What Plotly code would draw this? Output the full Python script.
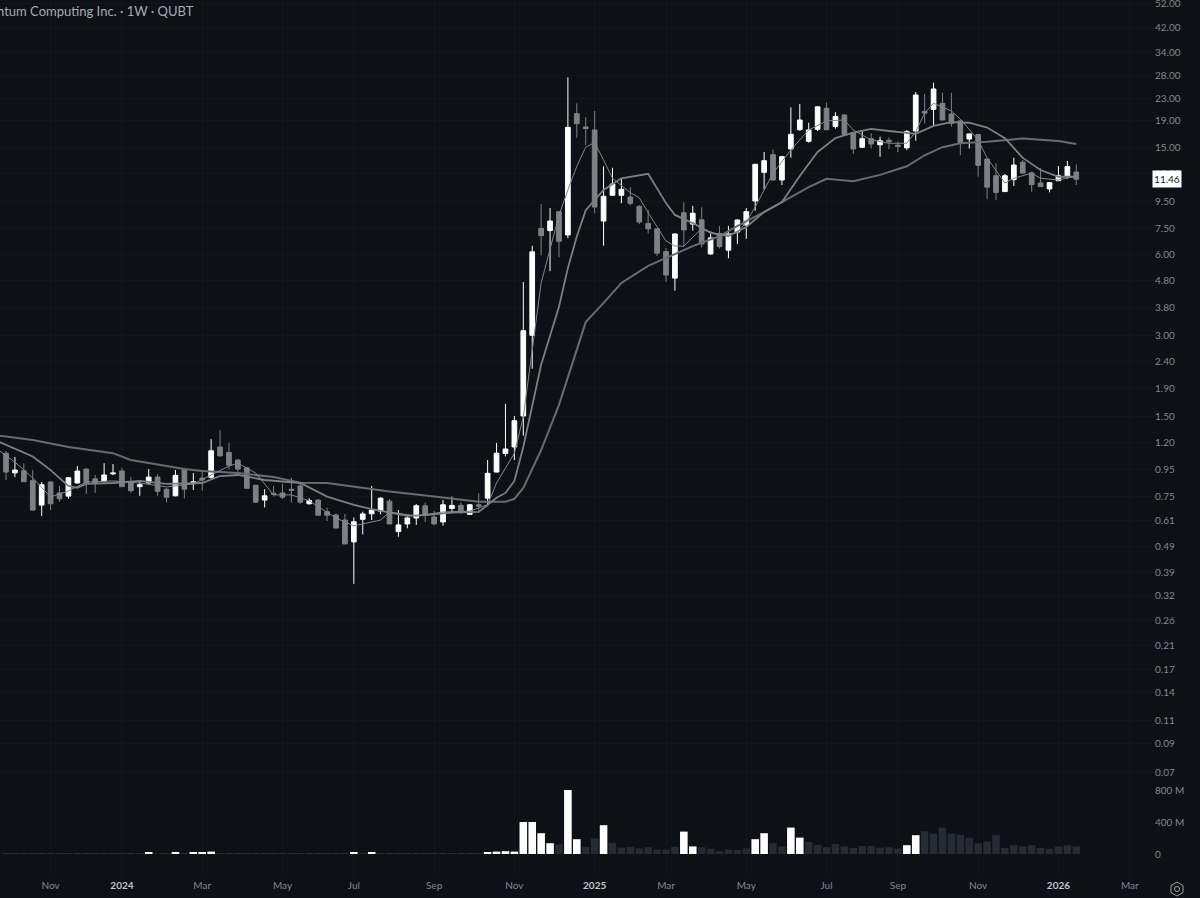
import pandas as pd
import plotly.graph_objects as go

# weekly bars, QUBT
opens = [1.09, .921, .937, .861, .698, .851, .775, .754, .844, .951, .875, .859, .913, .935, .853, .818, .844, .888, .80, .756,
         .949, .839, .881, .886, 1.15, 1.097, 1.028, .961, .828, .729, .773, .775, .80, .823, .706, .729, .66, .641, .614, .509,
         .618, .648, .663, .722, .556, .594, .625, .694, .63, .604, .678, .696, .645, .70, .741, .927, 1.087, 1.15, 1.50, 3.00,
         7.51, 7.37, 8.67, 7.10, 20.10, 17.94, 17.48, 8.00, 9.98, 9.98, 9.83, 9.07, 7.84, 7.48, 6.16, 4.90, 8.59, 7.79, 8.09, 6.03,
         7.19, 6.23, 7.28, 7.73, 9.50, 12.15, 14.14, 11.38, 14.85, 17.52, 15.86, 17.58, 21.06, 18.03, 19.89, 17.07, 15.08, 16.22, 15.40, 16.00,
         15.35, 15.00, 17.33, 20.50, 20.87, 21.97, 20.06, 18.90, 16.18, 16.80, 13.62, 11.80, 10.30, 11.41, 13.25, 12.10, 11.09, 10.54, 11.31, 11.78,
         12.18]
highs = [1.11, 1.055, 1.00, .943, .851, .856, .823, .888, .976, .959, .904, 1.00, .993, .961, .89, .851, .951, .911, .809, .943,
         .959, .919, .937, 1.23, 1.33, 1.19, 1.034, .97, .83, .80, .823, .837, .883, .837, .741, .735, .684, .65, .647, .628,
         .66, .823, .747, .735, .669, .632, .704, .714, .663, .729, .751, .714, .704, .773, 1.028, 1.19, 1.666, 1.50, 4.74, 6.47,
         9.26, 8.94, 8.70, 27.48, 21.97, 19.49, 20.57, 12.80, 12.64, 11.51, 10.68, 9.17, 8.79, 7.50, 6.35, 7.18, 9.39, 9.12, 9.00, 7.16,
         7.66, 7.66, 8.12, 8.94, 13.05, 14.47, 14.81, 14.00, 21.23, 21.85, 18.60, 21.40, 22.08, 20.36, 19.95, 17.20, 17.37, 17.00, 16.50, 16.40,
         15.80, 17.48, 24.22, 23.81, 26.25, 24.08, 24.08, 19.00, 16.95, 16.85, 13.65, 13.13, 11.98, 13.78, 13.51, 12.22, 12.60, 11.15, 12.83, 13.40,
         13.02]
lows = [.866, .888, .851, .665, .636, .669, .718, .737, .84, .769, .775, .854, .904, .816, .777, .756, .84, .756, .714, .752,
        .739, .795, .79, .875, 1.06, .948, .929, .802, .71, .684, .751, .735, .714, .706, .702, .636, .609, .573, .50, .355,
        .543, .614, .645, .594, .532, .572, .589, .604, .587, .585, .659, .647, .641, .654, .70, .925, 1.06, 1.028, 1.266, 2.25,
        5.95, 5.20, 5.86, 6.90, 16.36, 15.33, 8.55, 6.47, 9.96, 9.31, 9.16, 7.79, 7.19, 5.92, 4.74, 4.40, 6.42, 7.37, 6.38, 5.99,
        6.32, 5.81, 6.57, 6.87, 8.74, 10.49, 11.31, 10.90, 13.78, 17.37, 15.67, 17.33, 17.50, 17.68, 16.74, 14.24, 14.96, 14.91, 13.90, 14.85,
        14.45, 14.72, 15.95, 18.50, 18.20, 19.00, 17.98, 14.07, 14.91, 11.71, 9.64, 9.58, 10.28, 10.81, 12.05, 10.29, 10.72, 10.23, 11.28, 11.50,
        10.90]
closes = [.927, .943, .853, .669, .832, .706, .737, .883, .935, .844, .844, .904, .919, .818, .79, .832, .888, .786, .747, .901,
          .80, .853, .866, 1.113, 1.065, .984, .951, .807, .716, .756, .767, .747, .793, .716, .726, .64, .64, .573, .50, .605,
          .647, .669, .741, .594, .589, .625, .694, .641, .594, .70, .696, .665, .70, .692, .917, 1.09, 1.13, 1.44, 3.12, 6.14,
          7.06, 8.00, 6.72, 17.88, 18.44, 17.68, 9.02, 9.89, 10.99, 10.51, 9.31, 7.93, 7.48, 6.07, 5.03, 7.16, 7.41, 8.55, 6.57, 6.92,
          6.42, 7.17, 8.07, 8.67, 13.02, 13.43, 11.38, 13.90, 16.84, 19.04, 17.48, 21.33, 17.52, 19.64, 16.84, 14.85, 16.22, 15.50, 15.94, 15.80,
          15.18, 17.24, 23.60, 20.20, 24.85, 19.04, 18.50, 15.67, 16.90, 12.91, 10.70, 10.23, 11.80, 12.94, 12.07, 10.93, 10.75, 11.12, 11.80, 12.77,
          11.46]

# volume in millions, per bar
volumes = [6, 6, 5, 7, 6, 5, 6, 5, 5, 6, 5, 6, 5, 5, 6, 7, 20, 6, 7, 20,
           8, 20, 20, 30, 10, 9, 8, 9, 8, 7, 8, 7, 8, 7, 6, 8, 7, 6, 7, 20,
           7, 18, 6, 7, 6, 5, 6, 5, 6, 7, 5, 6, 7, 8, 20, 30, 35, 30, 400, 400,
           260, 135, 120, 800, 185, 90, 195, 360, 140, 80, 90, 70, 85, 55, 55, 90, 280, 95, 85, 65,
           35, 55, 50, 70, 185, 260, 135, 95, 330, 205, 150, 115, 85, 125, 95, 75, 100, 100, 80, 85,
           70, 110, 235, 285, 255, 330, 255, 240, 205, 135, 155, 240, 75, 110, 95, 110, 75, 65, 95, 110,
           95]
vol_bright = [16, 19, 21, 22, 23, 39, 41, 54, 55, 56, 57, 58, 59, 60, 61, 63, 64, 67, 76, 77, 84, 85, 88, 89, 101, 102]

# moving averages, bar number -> price
slow_bars = [-1, 3, 7, 12, 14, 20, 22, 26, 30, 33, 36, 39, 43, 49, 53, 56, 57, 58, 60, 62, 65, 67, 69, 72, 75, 77, 80, 83, 85, 88,
             90, 92, 95, 98, 101, 103, 105, 107, 110, 114, 118, 120]
slow_vals = [1.27, 1.22, 1.15, 1.09, 1.028, .951, .935, .919, .888, .846, .844, .816, .784, .745, .718, .718, .737, .809, 1.12, 1.65,
             3.36, 3.96, 4.70, 5.44, 6.00, 6.45, 7.03, 8.00, 8.64, 9.83, 10.71, 11.50, 11.25, 11.89, 12.80, 14.07, 15.08, 15.60, 15.80, 16.25, 15.90, 15.50]
mid_bars = [-1, 3, 5, 7, 8, 9, 12, 15, 18, 22, 24, 26, 29, 33, 36, 39, 41, 45, 47, 50, 53, 55, 56, 57, 58, 60, 62, 63, 64, 65,
            67, 69, 72, 74, 75, 77, 79, 81, 83, 85, 87, 89, 91, 93, 95, 97, 99, 102, 104, 106, 108, 110, 112, 114, 116, 118, 120]
mid_vals = [1.21, 1.06, .943, .823, .809, .837, .844, .859, .837, .844, .896, .904, .866, .844, .751, .70, .675, .636, .641, .654,
            .658, .743, .775, .859, 1.15, 2.33, 3.83, 5.35, 7.00, 8.78, 10.44, 11.55, 12.00, 9.33, 8.43, 7.86, 7.23, 7.03, 7.60, 8.64,
            9.41, 11.78, 14.47, 16.30, 17.10, 17.65, 17.33, 16.90, 18.10, 18.70, 18.60, 17.85, 16.30, 13.75, 12.40, 11.70, 11.70]
fast_bars = [-1, 1, 3, 5, 7, 9, 12, 15, 18, 21, 23, 25, 26, 28, 30, 32, 34, 37, 39, 42, 43, 46, 49, 52, 54, 55, 57, 58, 60, 61,
             62, 63, 64, 65, 66, 67, 68, 70, 71, 72, 74, 75, 76, 78, 80, 82, 83, 84, 86, 88, 90, 92, 94, 95, 97, 99, 101, 102,
             103, 104, 106, 107, 109, 110, 111, 112, 113, 115, 116, 118, 120]
fast_vals = [1.13, 1.01, .881, .749, .788, .851, .859, .844, .816, .837, .904, .976, 1.00, .919, .762, .762, .724, .625, .584, .614,
             .658, .636, .658, .663, .70, .844, 1.09, 1.49, 4.70, 6.37, 8.41, 10.44, 12.80, 15.08, 15.70, 13.51, 11.55, 10.20, 9.77, 8.60,
             6.74, 6.45, 6.45, 7.50, 7.09, 7.23, 7.93, 9.02, 12.07, 14.72, 17.48, 18.90, 19.04, 17.48, 16.04, 15.60, 15.60, 17.24,
             20.20, 22.00, 20.57, 19.20, 16.04, 13.75, 12.40, 11.09, 11.55, 12.07, 11.55, 11.38, 11.78]

price_ticks = [52, 42, 34, 28, 23, 19, 15, 12, 9.5, 7.5, 6, 4.8, 3.8, 3, 2.4, 1.9, 1.5, 1.2, .95, .75, .61, .49, .39, .32, .26,
               .21, .17, .14, .11, .09, .07]
date_ticks = ["2023-11-06", "2024-01-01", "2024-03-04", "2024-05-06", "2024-07-01", "2024-09-02", "2024-11-04", "2025-01-06",
              "2025-03-03", "2025-05-05", "2025-07-07", "2025-09-01", "2025-11-03", "2026-01-05", "2026-03-02"]
YEAR = "<b style='color:#c4c6ca'>%s</b>"
date_labels = ["Nov", YEAR % "2024", "Mar", "May", "Jul", "Sep", "Nov", YEAR % "2025", "Mar", "May", "Jul", "Sep", "Nov", YEAR % "2026", "Mar"]
vol_ticks = [0, 400, 800]
vol_labels = ["0", "400 M", "800 M"]

BG = "#0d1017"
GRID = "#12151c"
TEXT = "#85888e"
FONT = "Lato"

start = pd.Timestamp("2023-10-02")
dates = [start + pd.Timedelta(weeks=i) for i in range(len(closes))]


def bar_dates(bars):
    return [start + pd.Timedelta(weeks=b) for b in bars]


fig = go.Figure()

vol_colors = ["#ffffff" if i in vol_bright else "#262a33" for i in range(len(volumes))]
fig.add_trace(go.Bar(x=dates, y=volumes, yaxis="y2", marker=dict(color=vol_colors, line_width=0),
                     showlegend=False, hoverinfo="skip"))

fig.add_trace(go.Scatter(x=bar_dates(slow_bars), y=slow_vals, mode="lines", showlegend=False, hoverinfo="skip",
                         line=dict(color="#6a6b70", width=2)))
fig.add_trace(go.Scatter(x=bar_dates(mid_bars), y=mid_vals, mode="lines", showlegend=False, hoverinfo="skip",
                         line=dict(color="#7e7f84", width=1.8)))

fig.add_trace(go.Candlestick(
    x=dates, open=opens, high=highs, low=lows, close=closes, showlegend=False,
    increasing=dict(line=dict(color="#ffffff", width=1), fillcolor="#ffffff"),
    decreasing=dict(line=dict(color="#7f8085", width=1), fillcolor="#7f8085"),
    hoverinfo="skip",
))

fig.add_trace(go.Scatter(x=bar_dates(fast_bars), y=fast_vals, mode="lines", showlegend=False, hoverinfo="skip",
                         line=dict(color="#85868b", width=1)))

fig.update_layout(
    width=1200, height=898,
    margin=dict(l=0, r=46, t=0, b=20),
    paper_bgcolor=BG, plot_bgcolor=BG,
    font=dict(family=FONT, size=10, color=TEXT),
    bargap=0.15,
    boxgap=0.25,
    xaxis=dict(
        type="date", rangeslider_visible=False, automargin=False,
        range=["2023-09-27 07:00", "2026-03-21"],
        tickmode="array", tickvals=date_ticks, ticktext=date_labels,
        showgrid=True, gridcolor=GRID, gridwidth=1, zeroline=False, showline=False, ticks="",
        tickfont=dict(size=10, color=TEXT),
    ),
    yaxis=dict(
        type="log", side="right", range=[-1.5465, 1.7272], automargin=False,
        tickmode="array", tickvals=price_ticks, tickformat=".2f", ticklabeloverflow="allow",
        showgrid=True, gridcolor=GRID, gridwidth=1, zeroline=False, showline=False, ticks="",
    ),
    yaxis2=dict(
        overlaying="y", side="right", range=[-300, 10675], automargin=False,
        tickmode="array", tickvals=vol_ticks, ticktext=vol_labels,
        showgrid=False, zeroline=False, showline=False, ticks="",
    ),
    annotations=[
        dict(text="Quantum Computing Inc. · 1W · QUBT", xref="paper", yref="paper",
             x=196 / 1154, y=1 - 11 / 878, xanchor="right", yanchor="middle", showarrow=False,
             font=dict(family=FONT, size=13, color="#a9abb0")),
        dict(text="11.46", xref="paper", yref="y", x=1166.5 / 1154, y=1.0592, xanchor="center", yanchor="middle",
             showarrow=False, bgcolor="#ffffff", width=26, height=14, font=dict(size=10, color="#15171c")),
    ],
    shapes=[
        # settings icon, bottom right corner
        dict(type="path", xref="paper", yref="paper", xsizemode="pixel", ysizemode="pixel", xanchor=1, yanchor=0,
             path="M 23 -4 L 29 -7.5 L 29 -14.5 L 23 -18 L 17 -14.5 L 17 -7.5 Z",
             line=dict(color="#a0a2a7", width=1)),
        dict(type="circle", xref="paper", yref="paper", xsizemode="pixel", ysizemode="pixel", xanchor=1, yanchor=0,
             x0=20.5, x1=25.5, y0=-13.5, y1=-8.5, line=dict(color="#a0a2a7", width=1)),
    ],
)

# browser default body margin would push the chart off by 8px
fig.write_html("out.html", config=dict(displayModeBar=False),
               post_script="document.body.style.margin='0';document.body.style.background='#0d1017';")
